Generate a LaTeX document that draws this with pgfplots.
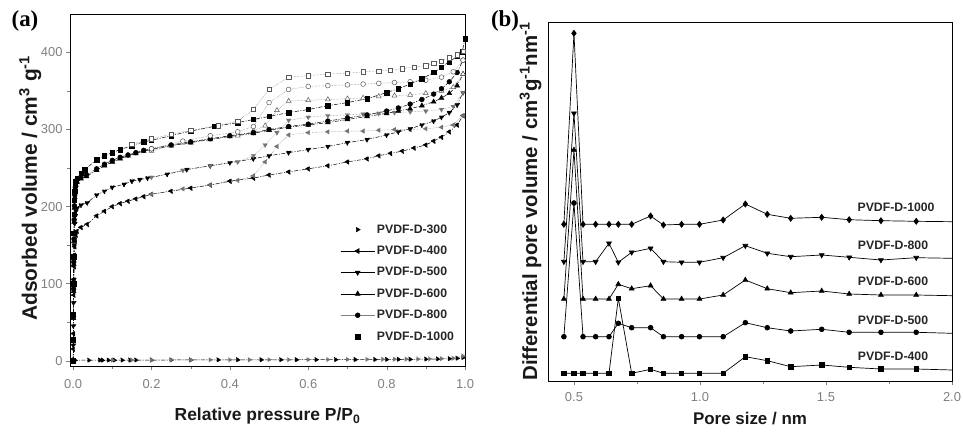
\documentclass[border=0pt]{standalone}
\usepackage{fontspec}
\setmainfont{Liberation Sans}
\newfontfamily\seriffont{Liberation Serif}
\usepackage{pgfplots}
\pgfplotsset{compat=1.18}
\begin{document}
\begin{tikzpicture}
\useasboundingbox (0,0) rectangle (963bp,435bp);
\pgfplotsset{
  ads/.style={black, line width=0.5pt, dash pattern=on 4pt off 1.5pt on 1pt off 1.5pt, mark options={solid, fill=black, draw=black}},
  des/.style={black!55, line width=0.45pt, densely dotted, mark options={solid, fill=white, draw=black!65, line width=0.5pt}},
  common/.style={scale only axis, anchor=south west, tick align=outside, xtick pos=bottom,
    axis line style={line width=0.8pt}, major tick length=4bp, minor tick length=2.5bp,
    /pgf/number format/assume math mode=true,
    tick label style={font=\fontsize{13}{15}\selectfont, text=black!50},
    xticklabel style={/pgf/number format/fixed, /pgf/number format/fixed zerofill, /pgf/number format/precision=1},
  },
}
% ---------------- panel (a)
\begin{axis}[common,
  at={(70bp,69bp)}, width=395bp, height=352bp,
  xmin=-0.008, xmax=1.0, ymin=-7, ymax=450,
  xtick={0,0.2,0.4,0.6,0.8,1.0}, minor xtick={0.1,0.3,0.5,0.7,0.9},
  ytick={0,100,200,300,400}, minor ytick={50,150,250,350}, ytick pos=left,
  xticklabel style={/tikz/yshift=-6bp},
  xlabel={Relative pressure P/P\textsubscript{0}},
  ylabel={Adsorbed volume / cm\textsuperscript{3} g\textsuperscript{-1}},
  xlabel style={font=\fontsize{17.5}{20}\selectfont\bfseries, text=black!90, at={(axis description cs:0.5,-0.143)}, anchor=center},
  ylabel style={font=\fontsize{21}{24}\selectfont\bfseries, text=black!90, at={(axis description cs:-0.101,0.505)}, anchor=center},
  legend style={at={(axis cs:0.985,182)}, anchor=north east, draw=none, fill=none,
    font=\fontsize{12.3}{14}\selectfont\bfseries, text=black!85, row sep=7.4pt, cells={anchor=west}},
  legend image code/.code={\draw[mark repeat=2,mark phase=2] plot coordinates {(0cm,0cm)(0.6cm,0cm)(1.2cm,0cm)};},
]
% PVDF-D-300
\addplot[ads, mark=triangle*, mark size=2.6pt, mark options={rotate=-90}, forget plot] coordinates {
(0.001,0)(0.005,0.5)(0.04,0.5)(0.068,0.5)(0.075,0.5)(0.09,0.5)(0.105,0.6)(0.125,0.6)(0.145,0.6)(0.16,0.7)(0.2,0.7)(0.25,0.8)(0.3,0.8)(0.37,0.9)(0.42,1)(0.48,1)(0.53,1.1)(0.57,1.1)(0.62,1.2)(0.67,1.2)(0.72,1.3)(0.77,1.4)(0.8,1.5)(0.83,1.6)(0.86,1.7)(0.9,1.9)(0.93,2.1)(0.96,2.4)(0.98,3)(0.995,4)};
\addplot[des, mark=triangle*, mark size=2.6pt, mark options={rotate=-90}, forget plot] coordinates {
(0.995,6)(0.97,3)(0.94,2.5)(0.91,2.2)(0.88,2)(0.85,1.9)(0.82,1.8)(0.79,1.7)(0.75,1.6)(0.7,1.5)(0.65,1.4)(0.6,1.3)(0.55,1.2)(0.5,1.2)(0.45,1.1)(0.4,1)(0.35,1)(0.3,0.9)(0.25,0.9)(0.2,0.8)(0.15,0.7)(0.1,0.6)};
% PVDF-D-400
\addplot[ads, mark=triangle*, mark size=2.8pt, mark options={rotate=90}, forget plot] coordinates {
(0.0002,0)(0.0005,15)(0.0008,35)(0.0012,60)(0.0016,85)(0.002,105)(0.0026,122)(0.0033,137)(0.0042,148)(0.0055,157)(0.007,163)(0.01,168)(0.02,173)
(0.036,177)(0.06,188)(0.08,194)(0.1,200)(0.12,204)(0.14,207)(0.16,210)(0.18,213)(0.2,216)(0.25,220)(0.3,224)(0.35,228)(0.4,233)(0.46,237)(0.5,241)(0.55,245)(0.6,249)(0.65,253)(0.7,258)(0.75,262)(0.78,266)(0.81,269)(0.84,272)(0.87,276)(0.9,280)(0.92,285)(0.94,290)(0.96,297)(0.98,306)(0.995,318)};
\addplot[des, mark=triangle*, mark size=2.8pt, mark options={rotate=90}, forget plot] coordinates {
(0.995,318)(0.97,306)(0.94,303)(0.9,301)(0.86,300)(0.82,300)(0.78,299)(0.74,298)(0.7,298)(0.65,297)(0.6,296)(0.55,293)(0.52,278)(0.49,258)(0.46,240)(0.42,234)(0.35,228)(0.28,223)(0.2,216)};
% PVDF-D-500
\addplot[ads, mark=triangle*, mark size=2.8pt, mark options={rotate=180}, forget plot] coordinates {
(0.0002,0)(0.0005,20)(0.0008,45)(0.0012,75)(0.0016,105)(0.002,130)(0.0026,150)(0.0033,165)(0.0042,178)(0.0055,188)(0.007,194)(0.01,198)(0.02,202)
(0.036,205)(0.06,215)(0.08,220)(0.1,225)(0.13,229)(0.15,233)(0.17,235)(0.19,237)(0.24,242)(0.29,248)(0.35,253)(0.4,257)(0.46,262)(0.5,266)(0.55,270)(0.6,274)(0.65,278)(0.7,283)(0.75,287)(0.8,293)(0.83,297)(0.86,301)(0.89,306)(0.92,311)(0.94,316)(0.96,322)(0.98,332)(0.995,348)};
\addplot[des, mark=triangle*, mark size=2.8pt, mark options={rotate=180}, forget plot] coordinates {
(0.995,348)(0.97,330)(0.94,326)(0.9,324)(0.86,323)(0.82,322)(0.78,321)(0.74,320)(0.7,319)(0.65,318)(0.6,316)(0.55,312)(0.52,296)(0.49,280)(0.46,266)(0.42,258)(0.35,253)(0.28,247)(0.2,238)};
% PVDF-D-600
\addplot[ads, mark=triangle*, mark size=2.8pt, forget plot] coordinates {
(0.0002,0)(0.0005,25)(0.0008,55)(0.0012,90)(0.0016,125)(0.002,155)(0.0026,180)(0.0033,198)(0.0042,212)(0.0055,222)(0.007,228)(0.01,232)(0.02,236)
(0.034,239)(0.06,247)(0.08,253)(0.1,258)(0.12,262)(0.14,266)(0.16,269)(0.18,272)(0.2,274)(0.25,279)(0.3,283)(0.35,287)(0.4,291)(0.46,295)(0.5,299)(0.55,303)(0.6,306)(0.65,309)(0.7,313)(0.75,317)(0.8,321)(0.83,324)(0.86,327)(0.89,331)(0.92,336)(0.94,341)(0.96,347)(0.98,357)(0.995,372)};
\addplot[des, mark=triangle*, mark size=2.8pt, forget plot] coordinates {
(0.995,372)(0.97,355)(0.94,350)(0.9,347)(0.86,345)(0.82,344)(0.78,343)(0.74,341)(0.7,340)(0.65,339)(0.6,338)(0.55,337)(0.52,325)(0.49,305)(0.46,298)(0.42,292)(0.35,288)(0.28,283)(0.2,272)};
% PVDF-D-800
\addplot[ads, mark=*, mark size=2.4pt, forget plot] coordinates {
(0.0002,0)(0.0005,26)(0.0008,57)(0.0012,93)(0.0016,128)(0.002,158)(0.0026,183)(0.0033,201)(0.0042,215)(0.0055,225)(0.007,231)(0.01,235)(0.02,238)
(0.034,241)(0.06,249)(0.08,255)(0.1,260)(0.12,264)(0.14,267)(0.16,270)(0.18,273)(0.2,275)(0.25,280)(0.3,284)(0.35,288)(0.4,292)(0.46,296)(0.5,300)(0.55,304)(0.6,307)(0.65,311)(0.7,315)(0.75,319)(0.8,324)(0.83,328)(0.86,333)(0.89,339)(0.92,346)(0.94,353)(0.96,362)(0.98,374)(0.995,390)};
\addplot[des, mark=*, mark size=2.4pt, forget plot] coordinates {
(0.995,390)(0.97,375)(0.94,368)(0.9,364)(0.86,362)(0.82,361)(0.78,360)(0.74,359)(0.7,358)(0.65,357)(0.6,356)(0.55,352)(0.5,335)(0.46,304)(0.42,297)(0.35,292)(0.28,285)(0.2,275)};
% PVDF-D-1000
\addplot[ads, mark=square*, mark size=2.2pt, forget plot] coordinates {
(0.0002,0)(0.0005,28)(0.0008,60)(0.0012,100)(0.0016,135)(0.002,165)(0.0026,190)(0.0033,208)(0.0042,220)(0.0055,228)(0.007,233)(0.01,237)(0.02,243)
(0.03,248)(0.06,261)(0.08,266)(0.1,270)(0.12,274)(0.15,279)(0.18,284)(0.2,286)(0.25,292)(0.3,298)(0.36,304)(0.42,309)(0.46,313)(0.5,317)(0.55,322)(0.6,326)(0.65,331)(0.7,335)(0.75,340)(0.8,348)(0.83,353)(0.86,359)(0.89,366)(0.92,374)(0.94,381)(0.96,388)(0.98,395)(0.993,401)(1.0,418)};
\addplot[des, mark=square*, mark size=2.2pt, forget plot] coordinates {
(0.995,402)(0.98,397)(0.96,393)(0.94,389)(0.92,386)(0.9,383)(0.87,381)(0.84,379)(0.81,377)(0.78,376)(0.74,375)(0.7,373)(0.65,372)(0.6,370)(0.55,368)(0.5,352)(0.46,326)(0.42,311)(0.37,305)(0.3,299)(0.25,294)(0.2,288)(0.15,281)};
% legend
\addlegendimage{only marks, mark=triangle*, mark size=2.6pt, mark options={rotate=-90, fill=black}}
\addlegendentry{PVDF-D-300}
\addlegendimage{black, line width=0.6pt, mark=triangle*, mark size=2.8pt, mark options={rotate=90, fill=black}}
\addlegendentry{PVDF-D-400}
\addlegendimage{black, line width=0.6pt, mark=triangle*, mark size=2.8pt, mark options={rotate=180, fill=black}}
\addlegendentry{PVDF-D-500}
\addlegendimage{black, line width=0.6pt, mark=triangle*, mark size=2.8pt, mark options={fill=black}}
\addlegendentry{PVDF-D-600}
\addlegendimage{black!50, line width=0.6pt, mark=*, mark size=2.4pt, mark options={fill=black, draw=black}}
\addlegendentry{PVDF-D-800}
\addlegendimage{only marks, mark=square*, mark size=2.2pt, mark options={fill=black}}
\addlegendentry{PVDF-D-1000}
\end{axis}
\node[font=\seriffont\bfseries\fontsize{23}{25}\selectfont] at (25bp,414bp) {(a)};
% ---------------- panel (b)
\begin{axis}[common,
  at={(548bp,54bp)}, width=404bp, height=359bp,
  xmin=0.397, xmax=2.0, ymin=0, ymax=359,
  xtick={0.5,1.0,1.5,2.0}, minor xtick={0.75,1.25,1.75}, ytick=\empty,
  xticklabel style={/tikz/yshift=-4bp},
  xlabel={Pore size / nm},
  ylabel={Differential pore volume / cm\textsuperscript{3}g\textsuperscript{-1}nm\textsuperscript{-1}},
  xlabel style={font=\fontsize{17}{20}\selectfont\bfseries, text=black!90, at={(axis description cs:0.5,-0.105)}, anchor=center},
  ylabel style={font=\fontsize{20.5}{23}\selectfont\bfseries, text=black!90, yshift=-1bp},
  every axis plot/.append style={black, line width=0.7pt, mark indices={1,...,19}},
]
\addplot[mark=square*, mark size=2.2pt] coordinates {
(0.460,7.7)(0.500,7.7)(0.536,7.7)(0.586,7.7)(0.639,7.7)(0.676,82.7)(0.729,7.7)(0.804,11.7)(0.855,7.7)(0.927,7.7)(0.998,7.7)(1.092,7.7)(1.180,24.3)(1.267,20.3)(1.360,14.3)(1.483,16)(1.592,13.7)(1.718,12)(1.858,12)(2.0,11)};
\addplot[mark=*, mark size=2.4pt] coordinates {
(0.460,44.3)(0.500,178)(0.536,44.3)(0.586,44.3)(0.639,44.3)(0.676,57.7)(0.729,53.3)(0.804,53.3)(0.855,44.3)(0.927,44.3)(0.998,44.3)(1.092,44.3)(1.180,58.3)(1.267,53.3)(1.360,50)(1.483,51.7)(1.592,48.7)(1.718,48.7)(1.858,48.7)(2.0,47.7)};
\addplot[mark=triangle*, mark size=2.8pt] coordinates {
(0.460,82)(0.500,231)(0.536,82)(0.586,82)(0.639,82)(0.676,96.7)(0.729,92.3)(0.804,95.3)(0.855,82)(0.927,82)(0.998,82)(1.092,86)(1.180,101)(1.267,92.3)(1.360,88.3)(1.483,90)(1.592,87)(1.718,86)(1.858,86)(2.0,85.3)};
\addplot[mark=triangle*, mark size=2.8pt, mark options={rotate=180}] coordinates {
(0.460,119.3)(0.500,267.7)(0.536,119.3)(0.586,119.3)(0.639,137.7)(0.676,118.7)(0.729,128.7)(0.804,132.7)(0.855,119.3)(0.927,118.7)(0.998,118.7)(1.092,123.3)(1.180,135.3)(1.267,127.7)(1.360,124.3)(1.483,126)(1.592,123.7)(1.718,121)(1.858,123.3)(2.0,122.7)};
\addplot[mark=diamond*, mark size=3pt] coordinates {
(0.460,156.7)(0.500,347.7)(0.536,156.7)(0.586,156.7)(0.639,156.7)(0.676,156.7)(0.729,156.7)(0.804,165)(0.855,156)(0.927,156.7)(0.998,156.7)(1.092,161)(1.180,177)(1.267,166.7)(1.360,162.7)(1.483,163.7)(1.592,161.3)(1.718,160.3)(1.858,159.7)(2.0,159.3)};
\node[font=\fontsize{12.3}{14}\selectfont\bfseries, text=black!85] at (axis cs:1.778,174) {PVDF-D-1000};
\node[font=\fontsize{12.3}{14}\selectfont\bfseries, text=black!85] at (axis cs:1.766,135.3) {PVDF-D-800};
\node[font=\fontsize{12.3}{14}\selectfont\bfseries, text=black!85] at (axis cs:1.766,99.3) {PVDF-D-600};
\node[font=\fontsize{12.3}{14}\selectfont\bfseries, text=black!85] at (axis cs:1.766,61) {PVDF-D-500};
\node[font=\fontsize{12.3}{14}\selectfont\bfseries, text=black!85] at (axis cs:1.766,25) {PVDF-D-400};
\end{axis}
\node[font=\seriffont\bfseries\fontsize{23}{25}\selectfont] at (505bp,414bp) {(b)};
\end{tikzpicture}
\end{document}
